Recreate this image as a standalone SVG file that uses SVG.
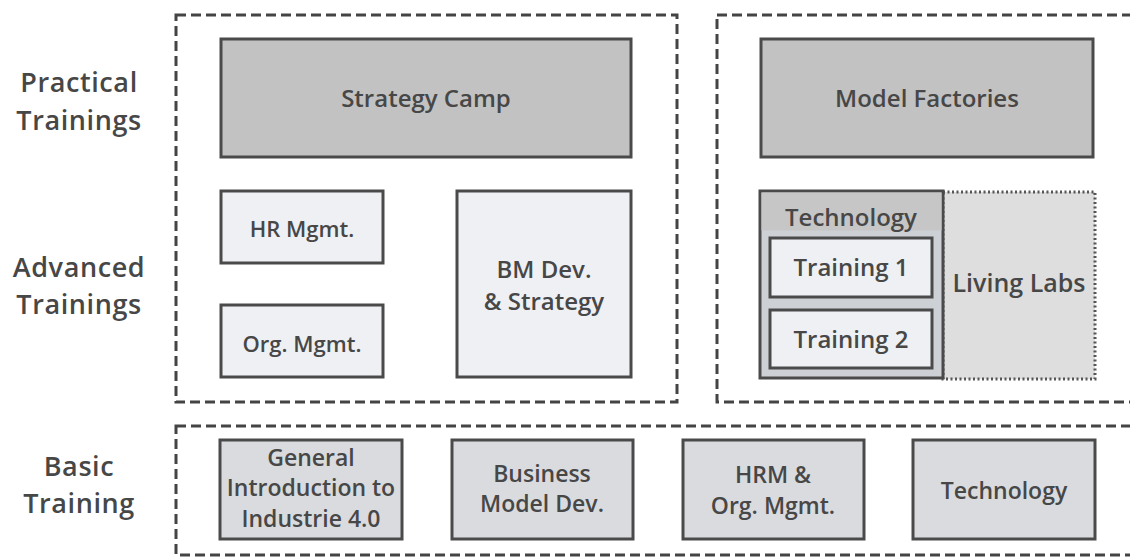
<svg xmlns="http://www.w3.org/2000/svg" width="1130" height="560" viewBox="0 0 1130 560">
<style>
.bg{fill:#ffffff}
.grp{fill:none;stroke:#444;stroke-width:3;stroke-dasharray:10 5}
.dark{fill:#c2c2c2;stroke:#4a4a4a;stroke-width:3}
.light{fill:#eef0f3;stroke:#4a4a4a;stroke-width:3}
.basic{fill:#d9dbde;stroke:#4a4a4a;stroke-width:3}
.tech{fill:#cdd0d4;stroke:#4a4a4a;stroke-width:3}
.techhead{fill:#c6c6c6}
.lab{fill:#dedede;stroke:#555;stroke-width:3;stroke-dasharray:2 2.5}
.t{font-family:"Open Sans","DejaVu Sans",sans-serif;font-weight:600;fill:#474747;text-anchor:middle}
.side{font-size:27px;letter-spacing:0.6px}
.big{font-size:24px}
.in{font-size:22px}
.in2{font-size:24px}
.ll{font-size:25px}
.bs{font-size:23px}
</style>
<rect class="bg" x="0" y="0" width="1130" height="560"/>
<g id="row-labels">
<text class="t side" x="79" y="92">Practical</text>
<text class="t side" x="79" y="130">Trainings</text>
<text class="t side" x="79" y="277">Advanced</text>
<text class="t side" x="79" y="314">Trainings</text>
<text class="t side" x="79" y="476">Basic</text>
<text class="t side" x="79" y="513">Training</text>
</g>
<g id="groups">
<rect class="grp" x="176" y="15" width="501" height="387"/>
<rect class="grp" x="717" y="15" width="430" height="387"/>
<rect class="grp" x="176" y="426" width="970" height="129"/>
</g>
<g id="strategy-camp">
<rect class="dark" x="221" y="39" width="410" height="118"/>
<text class="t big" x="426" y="107">Strategy Camp</text>
</g>
<g id="model-factories">
<rect class="dark" x="761" y="39" width="332" height="118"/>
<text class="t big" x="927" y="107">Model Factories</text>
</g>
<g id="hr-mgmt">
<rect class="light" x="221" y="191" width="162" height="72"/>
<text class="t in" x="302" y="237">HR Mgmt.</text>
</g>
<g id="org-mgmt">
<rect class="light" x="221" y="305" width="162" height="72"/>
<text class="t in" x="302" y="352">Org. Mgmt.</text>
</g>
<g id="bm-dev">
<rect class="light" x="457" y="191" width="174" height="186"/>
<text class="t in2" x="544" y="278">BM Dev.</text>
<text class="t in2" x="544" y="310">&amp; Strategy</text>
</g>
<g id="living-labs">
<rect class="lab" x="943" y="192" width="152" height="187"/>
<text class="t ll" x="1019" y="292">Living Labs</text>
</g>
<g id="technology">
<rect class="tech" x="760" y="191" width="183" height="187"/>
<rect class="techhead" x="761.5" y="192.5" width="180" height="38"/>
<text class="t in2" x="851" y="226">Technology</text>
<g id="training-1">
<rect class="light" x="770" y="238" width="162" height="59"/>
<text class="t in2" x="851" y="276">Training 1</text>
</g>
<g id="training-2">
<rect class="light" x="770" y="310" width="162" height="58"/>
<text class="t in2" x="851" y="348">Training 2</text>
</g>
</g>
<g id="general-intro">
<rect class="basic" x="220" y="440" width="182" height="99"/>
<text class="t bs" x="311" y="466">General</text>
<text class="t bs" x="311" y="496">Introduction to</text>
<text class="t bs" x="311" y="527">Industrie 4.0</text>
</g>
<g id="business-model">
<rect class="basic" x="452" y="440" width="181" height="99"/>
<text class="t bs" x="542" y="482">Business</text>
<text class="t bs" x="542" y="512">Model Dev.</text>
</g>
<g id="hrm-org">
<rect class="basic" x="683" y="440" width="181" height="99"/>
<text class="t bs" x="773" y="483">HRM &amp;</text>
<text class="t bs" x="773" y="514">Org. Mgmt.</text>
</g>
<g id="technology-basic">
<rect class="basic" x="913" y="440" width="182" height="99"/>
<text class="t bs" x="1004" y="499">Technology</text>
</g>
<g id="connectors"></g>
</svg>
